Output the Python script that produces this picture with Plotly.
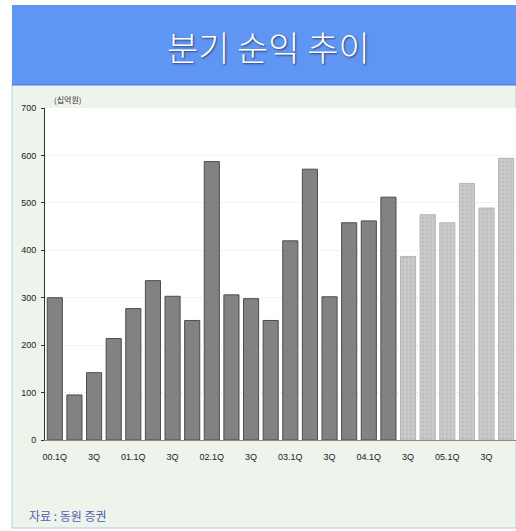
import plotly.graph_objects as go

# ---- data ----
quarters = [
    "00.1Q", "00.2Q", "00.3Q", "00.4Q",
    "01.1Q", "01.2Q", "01.3Q", "01.4Q",
    "02.1Q", "02.2Q", "02.3Q", "02.4Q",
    "03.1Q", "03.2Q", "03.3Q", "03.4Q",
    "04.1Q", "04.2Q", "04.3Q", "04.4Q",
    "05.1Q", "05.2Q", "05.3Q", "05.4Q",
]
actual_quarters = quarters[:18]
actual_values = [300, 95, 142, 214, 277, 336, 303, 252,
                 587, 306, 298, 252, 420, 571, 302, 458, 462, 512]
forecast_quarters = quarters[18:]
forecast_values = [387, 475, 458, 541, 489, 594]

tick_quarters = quarters[::2]
tick_labels = ["00.1Q", "3Q", "01.1Q", "3Q", "02.1Q", "3Q",
               "03.1Q", "3Q", "04.1Q", "3Q", "05.1Q", "3Q"]
y_ticks = [0, 100, 200, 300, 400, 500, 600, 700]

title_text = "분기 순익 추이"
unit_text = "(십억원)"
source_text = "자료 : 동원 증권"

# ---- layout geometry (pixels) ----
W, H = 516, 531
L, R, T, B = 45, 0, 108, 91
pw, ph = W - L - R, H - T - B


def px(x):
    return (x - L) / pw


def py(y):
    return (H - B - y) / ph


fig = go.Figure()
fig.add_trace(go.Bar(
    x=actual_quarters, y=actual_values,
    marker=dict(color="#818281", line=dict(color="#4d4d4d", width=1)),
    hoverinfo="x+y",
))
fig.add_trace(go.Bar(
    x=forecast_quarters, y=forecast_values,
    marker=dict(color="#c6c6c6",
                line=dict(color="#b4b4b4", width=1),
                pattern=dict(shape=".", fgcolor="#acacac", bgcolor="#cacaca",
                             size=4, solidity=0.25)),
    hoverinfo="x+y",
))

shapes = [
    # light panel
    dict(type="rect", xref="paper", yref="paper",
         x0=px(12), x1=px(516), y0=py(528), y1=py(84),
         fillcolor="#eef3ec", line=dict(color="#b4cbe6", width=1), layer="below"),
    # white plot area
    dict(type="rect", xref="paper", yref="paper",
         x0=px(45), x1=px(516), y0=py(440), y1=py(108),
         fillcolor="white", line=dict(width=0), layer="below"),
    # title banner
    dict(type="rect", xref="paper", yref="paper",
         x0=px(12), x1=px(516), y0=py(85), y1=py(5),
         fillcolor="#5f96f4", line=dict(width=0), layer="below"),
    dict(type="line", xref="paper", yref="paper",
         x0=px(12), x1=px(516), y0=py(85), y1=py(85),
         line=dict(color="#4a7fd8", width=1), layer="below"),
]

annotations = [
    dict(text=title_text, xref="paper", yref="paper",
         x=px(268), y=py(47), xanchor="center", yanchor="middle",
         showarrow=False,
         font=dict(family="Noto Sans CJK KR", size=34, color="white",
                   weight=300, shadow="1px 1px 2px #2a3f6a")),
    dict(text=unit_text, xref="paper", yref="paper",
         x=px(52), y=py(100), xanchor="left", yanchor="middle",
         showarrow=False,
         font=dict(family="Noto Sans CJK KR", size=8, color="#333333")),
    dict(text=source_text, xref="paper", yref="paper",
         x=px(27), y=py(515), xanchor="left", yanchor="middle",
         showarrow=False,
         font=dict(family="Noto Sans CJK KR", size=12, color="#4f5fb0")),
]

fig.update_layout(
    width=W, height=H,
    margin=dict(l=L, r=R, t=T, b=B, pad=0),
    paper_bgcolor="white",
    plot_bgcolor="white",
    barmode="overlay",
    bargap=0.23,
    showlegend=False,
    shapes=shapes,
    annotations=annotations,
    font=dict(family="Liberation Sans", size=9, color="#222222"),
)
fig.update_xaxes(
    categoryorder="array", categoryarray=quarters,
    tickmode="array", tickvals=tick_quarters, ticktext=tick_labels,
    showline=True, linecolor="#8a8a8a", linewidth=1,
    ticks="", showgrid=False, ticklabelstandoff=8,
    tickfont=dict(family="Liberation Sans", size=9, color="#222222"),
    range=[-0.5, 23.5], fixedrange=True,
)
fig.update_yaxes(
    range=[0, 700], tickmode="array", tickvals=y_ticks,
    showline=True, linecolor="#333333", linewidth=1,
    ticks="outside", ticklen=3, tickcolor="#333333",
    showgrid=True, gridcolor="#d6d6d6", griddash="1px,3px", gridwidth=1,
    zeroline=False, ticklabelstandoff=3,
    tickfont=dict(family="Liberation Sans", size=9, color="#222222"),
    fixedrange=True,
)

fig.write_html("out.html")
